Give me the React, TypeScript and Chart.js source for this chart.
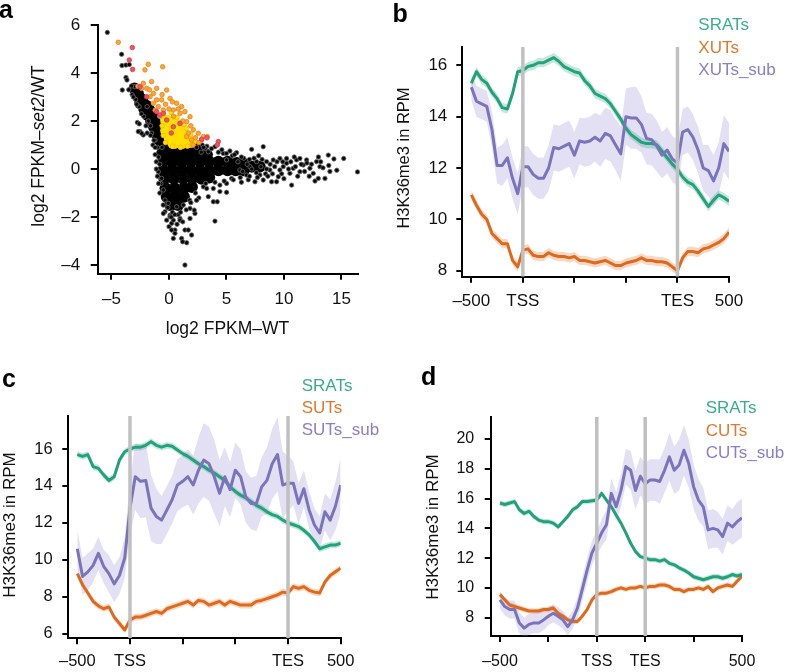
import React, { useEffect, useRef } from "react";
import { Chart, registerables } from "chart.js";
Chart.register(...registerables);

const FONT = '"Liberation Sans", Arial, Helvetica, sans-serif';

// ---------------- Panel a: scatter data (log2 FPKM-WT, log2 FPKM-set2/WT) ----------------
const aTicksX = [-5, 0, 5, 10, 15];
const aTicksY = [-4, -2, 0, 2, 4, 6];

const aBlackCore: number[][] = [
  [-3.0, 3.35], [-2.7, 3.15], [-2.35, 2.9], [-2.0, 2.65], [-1.7, 2.45], [-1.45, 2.2], [-1.2, 1.95], [-1.0, 1.7],
  [-0.85, 1.45], [-0.7, 1.2], [-1.35, 1.9],
  [-2.5, 2.75], [-2.15, 2.5], [-1.85, 2.25], [-1.55, 2.0], [-1.3, 1.75], [-1.1, 1.5], [-0.95, 1.25],
  [-0.6, 1.0], [0.1, 1.0], [0.9, 0.95], [1.7, 0.95], [2.3, 0.9],
  [-0.6, 0.65], [0.2, 0.65], [1.0, 0.65], [1.8, 0.65], [2.6, 0.65], [3.3, 0.6],
  [-0.5, 0.3], [0.3, 0.3], [1.1, 0.3], [1.9, 0.3], [2.7, 0.3], [3.5, 0.3], [4.3, 0.3], [5.1, 0.3], [5.9, 0.25], [6.6, 0.2],
  [-0.5, -0.05], [0.3, -0.05], [1.1, -0.05], [1.9, -0.05], [2.7, -0.05], [3.5, -0.05], [4.3, -0.05], [5.1, -0.05], [5.8, -0.05],
  [6.5, -0.05], [7.2, 0.1], [7.9, 0.1],
  [-0.4, -0.4], [0.4, -0.4], [1.2, -0.4], [2.0, -0.4], [2.8, -0.4], [3.5, -0.35],
  [-0.3, -0.8], [0.5, -0.8], [1.3, -0.8], [2.0, -0.75],
  [-0.2, -1.15], [0.6, -1.15], [1.3, -1.15],
  [0.1, -1.5], [0.8, -1.5],
];

const aBlack: number[][] = [
  [-5.36, 5.69], [-4.12, 4.78], [-4.09, 4.31], [-3.74, 4.33], [-3.45, 4.35], [-3.74, 3.81], [-3.65, 3.71], [-4.06, 3.29],
  [-2.96, 3.43], [-3.25, 3.46], [-3.5, 3.3], [-2.75, 1.94], [-2.58, 1.88], [-2.52, 1.56], [-2.23, 1.42], [-2.38, 1.49],
  [-2.67, 1.56], [-3.2, 3.1], [-2.9, 2.9], [-2.6, 2.6], [-2.2, 2.2], [-1.9, 2.6], [-1.8, 2.0], [-1.6, 1.8], [-1.9, 1.5],
  [-1.5, 1.5], [-1.2, 1.2], [-1.4, 1.0], [-1.0, 0.9], [-1.2, 0.6], [-0.9, 0.5], [-1.1, 0.3], [-0.93, -0.11], [-0.64, -0.39],
  [-0.49, -0.87], [-0.35, -1.29], [-0.06, -1.43], [-0.8, 0.2], [-0.7, -0.6], [-0.6, 0.9], [2.9, 1.0], [3.3, 0.95],
  [-1.1, 0.0], [-1.0, -0.3], [-0.9, -0.6], [-0.8, -1.0], [-1.2, 0.9], [-1.3, 1.2], [-1.6, 1.4], [-2.0, 1.8], [-2.4, 2.3],
  [-2.8, 2.7], [-3.1, 3.0],
  [-0.35, -1.78], [-0.2, -2.13], [0.23, -2.26], [0.52, -2.54], [0.38, -2.89], [1.1, -2.89], [1.54, -3.07], [1.19, -3.03],
  [0.96, -2.06], [1.83, -2.06], [2.26, -1.85], [1.83, -1.64], [1.25, -1.5], [0.67, -1.57], [0.09, -1.92], [1.39, -4.0],
  [-0.49, -1.85], [0.09, -1.99], [0.38, -2.13], [0.23, -2.54], [0.52, -2.68], [1.39, -2.54], [1.68, -2.54], [1.97, -2.75],
  [2.2, -1.71], [0.96, -2.13], [4.0, -2.17], [3.86, -1.36], [4.2, -1.36], [3.42, -1.15], [2.99, -0.74], [4.43, -0.94],
  [5.01, -0.97], [2.6, -1.2], [2.3, -1.0], [1.8, -1.3], [0.3, -1.8], [-0.1, -1.6], [0.8, -1.9],
  [-0.5, -1.5], [0.2, -2.0], [0.5, -1.9], [1.0, -1.8], [1.5, -1.7], [1.9, -1.4], [2.4, -1.3], [0.7, -2.3], [1.2, -2.2],
  [0.0, -2.4],
  [5.88, 0.68], [7.19, 0.82], [8.2, 0.93], [13.86, 0.58], [14.35, 0.42], [15.2, 0.44], [16.4, -0.12], [10.67, -0.67],
  [12.99, -0.39], [13.57, -0.39], [12.55, -0.18], [12.26, 0.03], [11.68, 0.17], [11.1, 0.38], [10.81, 0.03], [10.23, 0.24],
  [9.65, -0.04], [9.51, -0.32], [8.93, -0.53], [9.36, -0.53], [8.2, -0.46], [7.91, -0.25], [7.48, -0.53], [8.49, 0.31],
  [9.07, 0.38], [9.65, 0.44], [10.23, 0.44], [11.39, 0.44], [11.97, 0.38], [12.84, 0.31], [13.13, 0.1], [11.39, -0.11],
  [10.52, -0.18], [9.94, 0.1], [8.78, -0.04], [6.75, -0.25], [6.17, -0.04], [7.04, 0.1], [7.62, 0.31], [5.45, -0.39],
  [5.01, -0.6], [4.43, -0.67], [3.86, -0.81], [3.28, -0.81], [5.01, 0.38], [4.72, 0.65], [4.0, 0.93], [3.42, 0.72],
  [3.13, 0.86], [2.4, 0.9], [2.8, 0.7], [6.4, -0.1], [6.8, 0.2], [7.2, 0.0], [7.6, -0.15], [8.0, 0.1], [8.4, -0.2],
  [8.8, 0.2], [9.2, 0.1], [9.8, -0.2], [10.4, 0.0], [11.0, 0.1], [11.8, -0.1], [12.4, 0.2], [13.4, 0.05], [14.0, -0.1],
  [6.0, 0.3], [6.5, 0.45], [7.0, 0.4], [5.5, 0.55], [6.9, -0.45], [6.3, -0.55], [7.8, 0.55], [10.0, -0.4], [11.2, -0.3],
  [12.0, 0.25], [8.6, -0.3], [9.4, 0.3], [10.9, 0.5], [12.7, -0.5], [13.2, 0.3], [4.6, 0.8], [5.3, 0.75],
  [3.0, 0.9], [3.7, 0.85], [4.3, 0.7], [5.0, 0.65], [5.7, 0.6], [6.3, 0.5], [7.4, 0.45], [8.1, 0.4], [3.2, -0.6],
  [4.0, -0.55], [4.8, -0.5], [5.6, -0.45], [6.2, -0.35], [7.0, -0.3], [7.7, -0.35], [8.5, 0.0], [9.0, -0.2], [9.9, 0.3],
  [10.6, 0.3], [11.5, 0.2], [12.2, -0.3], [13.9, 0.15], [14.6, -0.05], [13.0, 0.5],
];

const aYellowCore: number[][] = [
  [-0.2, 2.0], [0.4, 1.95], [-0.2, 1.6], [0.5, 1.6], [1.1, 1.55], [0.1, 1.3], [0.8, 1.3], [1.5, 1.3], [0.4, 1.1],
  [1.1, 1.1], [1.8, 1.15],
];

const aYellow: number[][] = [
  [-0.5, 2.35], [0.2, 2.35], [0.7, 2.15], [1.3, 1.85], [1.9, 1.45], [2.3, 1.15], [-0.6, 1.8], [-0.5, 1.4], [-0.3, 1.1],
  [0.3, 0.95], [1.0, 0.9], [1.6, 0.95], [2.0, 1.0], [0.9, 1.9], [1.5, 1.7],
];

const aOrange: number[][] = [
  [-4.41, 5.28], [-2.09, 4.13], [-1.8, 4.36], [-0.55, 4.26], [-2.23, 3.57], [-1.51, 3.64], [-1.07, 3.36], [-0.2, 3.29],
  [-1.94, 3.36], [-2.38, 3.36], [-1.36, 3.15], [-0.64, 2.88], [0.09, 2.94], [0.67, 2.74], [1.1, 2.6], [1.39, 2.39],
  [1.83, 2.18], [0.38, 2.46], [0.96, 2.32], [1.54, 1.97], [2.12, 1.63], [2.55, 1.49], [2.99, 1.35], [3.33, 1.35],
  [2.84, 1.21], [1.97, 1.21], [1.54, 1.35], [-1.36, 2.74], [-0.93, 2.6], [-0.49, 2.46], [-1.07, 2.88], [-1.65, 3.01],
  [-0.3, 2.7], [0.4, 2.2], [1.2, 2.0], [1.9, 1.8], [2.3, 1.3], [2.6, 1.1], [1.7, 1.5], [0.8, 2.5], [-0.8, 2.2],
  [-1.2, 2.45], [0.0, 2.5], [2.1, 1.0], [-0.6, 3.1], [0.3, 2.8], [-1.7, 3.3], [-2.7, 3.45],
];

const aRed: number[][] = [
  [-3.19, 5.06], [-3.45, 4.54], [-3.16, 4.15], [-2.52, 3.43], [-1.94, 3.01], [-0.78, 2.25], [-0.2, 2.04], [-0.49, 2.32],
  [2.84, 1.24], [4.29, 1.14], [4.2, 1.0], [0.38, 1.76], [0.96, 1.9], [-1.07, 2.39], [3.3, 1.3], [0.2, 1.5],
];

// ---------------- Profile panels (b, c, d): values sampled every 0.1 of the metagene axis ----------------
const profileTicks = [0, 1, 2, 3, 4, 5];
const bcTickLabels = ["–500", "TSS", "", "", "TES", "500"];
const dTickLabels = ["–500", "", "TSS", "TES", "", "500"];
const bcBoundaries = [1, 4];
const dBoundaries = [2, 3];
const bYTicks = [8, 10, 12, 14, 16];
const cYTicks = [6, 8, 10, 12, 14, 16];
const dYTicks = [8, 10, 12, 14, 16, 18, 20];

const bSrats = [15.3, 15.75, 15.45, 15.3, 14.95, 14.7, 14.35, 14.3, 14.9, 15.75,
  15.8, 15.95, 16.0, 16.1, 16.1, 16.2, 16.3, 16.15, 15.95, 15.85,
  15.75, 15.7, 15.4, 15.2, 14.9, 14.8, 14.7, 14.5, 14.2, 13.9,
  13.55, 13.3, 13.15, 13.0, 12.95, 12.95, 12.9, 12.65, 12.4, 12.15,
  11.95, 11.65, 11.45, 11.35, 11.1, 10.8, 10.5, 10.75, 10.95, 10.85, 10.7];
const bXuts = [10.95, 10.55, 10.2, 10.0, 9.45, 9.25, 9.05, 9.05, 8.4, 8.15,
  8.8, 8.85, 8.6, 8.55, 8.55, 8.7, 8.6, 8.55, 8.55, 8.5,
  8.55, 8.4, 8.4, 8.35, 8.3, 8.35, 8.4, 8.3, 8.2, 8.2,
  8.3, 8.35, 8.4, 8.5, 8.4, 8.4, 8.35, 8.35, 8.3, 8.15,
  8.0, 8.5, 8.75, 8.75, 8.7, 8.85, 8.9, 9.0, 9.1, 9.25, 9.5];
const bXutsSub = [15.15, 14.6, 14.5, 14.4, 13.5, 12.1, 12.1, 12.4, 11.6, 11.0,
  12.05, 12.05, 11.75, 11.6, 11.6, 12.0, 12.8, 12.75, 12.85, 12.95,
  12.5, 13.05, 13.0, 13.05, 13.2, 13.05, 13.35, 13.25, 12.9, 12.55,
  14.0, 13.95, 13.95, 13.7, 13.15, 13.1, 12.85, 12.5, 12.7, 12.35,
  12.2, 13.4, 13.5, 13.2, 12.7, 12.0, 11.9, 11.5, 12.0, 12.95, 12.65];
const bXutsSubSe = [0.5, 0.6, 0.6, 0.6, 0.7, 0.7, 0.8, 0.8, 0.8, 0.8,
  0.8, 0.8, 0.8, 0.8, 0.8, 0.9, 0.9, 0.9, 0.9, 0.9,
  0.9, 0.9, 0.95, 0.95, 0.95, 1.0, 1.0, 1.0, 1.0, 1.05,
  1.1, 1.2, 1.2, 1.1, 1.0, 1.0, 1.0, 0.9, 0.9, 0.9,
  0.9, 0.9, 0.9, 0.9, 0.9, 0.9, 1.0, 1.0, 1.0, 1.1, 1.1];

const cSrats = [15.7, 15.6, 15.7, 15.05, 14.95, 14.6, 14.3, 14.5, 15.4, 15.85,
  16.0, 16.1, 16.1, 16.2, 16.4, 16.2, 16.1, 16.2, 16.15, 15.95,
  15.75, 15.6, 15.4, 15.2, 15.05, 14.85, 14.7, 14.5, 14.3, 13.95,
  13.7, 13.5, 13.35, 13.15, 12.95, 12.8, 12.6, 12.45, 12.35, 12.15,
  12.0, 11.9, 11.8, 11.6, 11.35, 11.0, 10.6, 10.7, 10.8, 10.8, 10.9];
const cSuts = [9.25, 8.65, 8.2, 7.75, 7.5, 7.35, 7.45, 6.9, 6.55, 6.2,
  6.75, 6.9, 6.9, 7.0, 7.1, 7.2, 7.1, 7.35, 7.45, 7.55,
  7.65, 7.75, 7.55, 7.8, 7.75, 7.55, 7.65, 7.75, 7.55, 7.75,
  7.65, 7.55, 7.55, 7.55, 7.75, 7.8, 7.9, 8.0, 8.1, 8.25,
  8.2, 8.55, 8.45, 8.55, 8.35, 8.25, 8.2, 8.8, 9.15, 9.35, 9.55];
const cSutsSub = [10.6, 9.1, 9.35, 9.7, 10.35, 9.65, 9.25, 8.7, 9.15, 10.1,
  12.8, 14.5, 14.25, 14.3, 12.8, 12.35, 12.15, 12.7, 13.25, 14.05,
  14.25, 14.5, 14.05, 14.85, 15.4, 15.2, 14.5, 13.6, 14.5, 13.8,
  14.85, 14.5, 13.4, 13.05, 13.05, 13.95, 14.3, 15.2, 15.7, 14.05,
  14.15, 14.15, 13.05, 13.85, 12.7, 11.9, 11.45, 12.6, 12.15, 12.9, 14.05];
const cSutsSubSe = [1.0, 1.0, 1.0, 0.9, 0.9, 0.9, 1.0, 1.0, 1.0, 1.1,
  1.5, 1.8, 2.0, 2.0, 1.8, 1.5, 1.3, 1.3, 1.3, 1.4,
  1.4, 1.5, 1.6, 1.8, 2.0, 2.0, 2.0, 1.8, 1.6, 1.5,
  1.5, 1.5, 1.4, 1.4, 1.5, 1.6, 1.8, 1.9, 2.0, 1.8,
  1.5, 1.2, 1.1, 1.0, 1.0, 0.9, 0.9, 1.0, 1.1, 1.3, 1.5];

const dSrats = [15.7, 15.6, 15.7, 15.8, 15.25, 15.0, 15.15, 14.8, 14.55, 14.45,
  14.45, 14.35, 14.1, 14.45, 14.8, 15.25, 15.45, 15.8, 15.8, 15.85,
  15.9, 16.35, 15.9, 15.45, 14.9, 14.35, 13.7, 13.0, 12.45, 12.1,
  12.0, 11.9, 11.9, 11.8, 11.9, 11.65, 11.55, 11.35, 11.2, 11.0,
  10.75, 10.65, 10.55, 10.65, 10.75, 10.75, 10.65, 10.75, 10.9, 10.8, 10.9];
const dCuts = [9.55, 9.2, 8.85, 8.75, 8.65, 8.55, 8.45, 8.45, 8.45, 8.55,
  8.55, 8.65, 8.3, 8.1, 7.85, 7.75, 7.75, 8.1, 8.55, 9.2,
  9.55, 9.65, 9.65, 9.75, 9.9, 10.0, 9.9, 10.0, 10.0, 10.1,
  10.0, 10.1, 10.1, 10.2, 10.2, 10.1, 9.9, 9.9, 9.75, 9.9,
  9.9, 10.0, 9.9, 10.1, 9.75, 10.0, 10.1, 10.2, 10.1, 10.45, 10.8];
const dCutsSub = [9.2, 8.75, 8.55, 8.55, 7.65, 7.3, 7.55, 7.65, 7.65, 7.85,
  8.1, 8.3, 8.1, 7.85, 7.4, 7.85, 8.65, 9.9, 11.2, 12.35,
  13.0, 13.7, 14.25, 16.35, 15.45, 16.55, 18.15, 17.9, 16.55, 17.5,
  17.0, 17.25, 17.25, 17.15, 17.9, 18.8, 17.9, 18.25, 19.25, 18.35,
  16.8, 15.9, 15.45, 13.9, 14.0, 13.9, 13.45, 14.35, 14.1, 14.45, 14.7];
const dCutsSubSe = [0.6, 0.6, 0.6, 0.6, 0.7, 0.7, 0.7, 0.7, 0.7, 0.7,
  0.6, 0.6, 0.6, 0.6, 0.6, 0.6, 0.7, 0.8, 0.8, 0.8,
  0.8, 0.9, 1.0, 1.0, 1.0, 1.1, 1.2, 1.3, 1.3, 1.3,
  1.4, 1.4, 1.4, 1.5, 1.5, 1.6, 1.6, 1.7, 1.7, 1.6,
  1.5, 1.4, 1.3, 1.3, 1.3, 1.2, 1.2, 1.2, 1.2, 1.3, 1.3];
const narrowSe = 0.18;

// ---------------- styles ----------------
const GREEN = "#22a27a";
const ORANGE = "#dd6a1d";
const PURPLE = "#7b73bb";
const GREEN_BAND = "rgba(40,170,125,0.28)";
const ORANGE_BAND = "rgba(235,125,55,0.30)";
const PURPLE_BAND = "rgba(125,115,195,0.22)";
const GREEN_TXT = "#3aae88";
const ORANGE_TXT = "#e0782e";
const PURPLE_TXT = "#8880c6";
const GREY = "#c0c0c0";

type Box = { left: number; top: number; width: number; height: number };
type Area = { left: number; top: number; right: number; bottom: number };

function axisStyle(tl: number, size: number, pad: number) {
  return {
    grid: { display: true, drawOnChartArea: false, drawTicks: true, tickLength: tl, tickWidth: 2, tickColor: "#000", color: "#000", lineWidth: 2 },
    border: { display: true, color: "#000", width: 2 },
    ticks: { font: { family: FONT, size }, color: "#111", padding: pad, autoSkip: false, maxRotation: 0 },
  };
}

function layoutFor(box: Box, area: Area) {
  return {
    padding: { left: 0, top: area.top - box.top, right: box.left + box.width - area.right, bottom: 0 },
    autoPadding: false,
  };
}

type Series = { vals: number[]; se: number[] | number; line: string; band: string };

function ProfilePanel(props: {
  box: Box; area: Area; xMin: number; yMin: number; yMax: number; yTicks: number[];
  xLabels: string[]; boundaries: number[]; series: Series[]; tick: number; xPad: number; yPad: number;
}) {
  const ref = useRef<HTMLCanvasElement>(null);
  useEffect(() => {
    const { box, area, xMin, yMin, yMax, yTicks, xLabels, boundaries, series, tick, xPad, yPad } = props;
    const datasets: any[] = [];
    boundaries.forEach((b) =>
      datasets.push({ data: [{ x: b, y: yMin }, { x: b, y: yMax }], borderColor: GREY, borderWidth: 3.5, pointRadius: 0, fill: false })
    );
    const xAt = (i: number) => i / 10;
    const seAt = (s: Series, i: number) => (Array.isArray(s.se) ? s.se[i] : s.se);
    series.forEach((s) =>
      datasets.push({
        data: s.vals.map((v, i) => ({ x: xAt(i), y: v })),
        borderColor: s.line, borderWidth: 3, pointRadius: 0, fill: false, tension: 0, borderJoinStyle: "round",
      })
    );
    series.forEach((s) => {
      datasets.push({
        data: s.vals.map((v, i) => ({ x: xAt(i), y: v + seAt(s, i) })),
        borderWidth: 0, borderColor: "rgba(0,0,0,0)", pointRadius: 0, backgroundColor: s.band, fill: "+1",
      });
      datasets.push({
        data: s.vals.map((v, i) => ({ x: xAt(i), y: v - seAt(s, i) })),
        borderWidth: 0, borderColor: "rgba(0,0,0,0)", pointRadius: 0, fill: false,
      });
    });
    const xs = axisStyle(6, tick, xPad);
    const ys = axisStyle(6, tick, yPad);
    const chart = new Chart(ref.current!, {
      type: "line",
      data: { datasets },
      options: {
        responsive: false, animation: false, devicePixelRatio: 1, events: [],
        layout: layoutFor(box, area) as any,
        plugins: { legend: { display: false }, tooltip: { enabled: false } },
        scales: {
          x: {
            type: "linear", min: xMin, max: 5, ...xs,
            ticks: { ...xs.ticks, callback: (_v: any, i: number) => xLabels[i] },
            afterBuildTicks: (s: any) => { s.ticks = profileTicks.map((v) => ({ value: v })); },
            afterFit: (s: any) => { s.height = box.top + box.height - area.bottom; },
          },
          y: {
            type: "linear", min: yMin, max: yMax, ...ys,
            afterBuildTicks: (s: any) => { s.ticks = yTicks.map((v) => ({ value: v })); },
            afterFit: (s: any) => { s.width = area.left - box.left; },
          },
        },
      } as any,
    });
    return () => chart.destroy();
  }, []);
  const { box } = props;
  return (
    <canvas ref={ref} width={box.width} height={box.height}
      style={{ position: "absolute", left: box.left, top: box.top, width: box.width, height: box.height }} />
  );
}

function ScatterPanel() {
  const ref = useRef<HTMLCanvasElement>(null);
  const box: Box = { left: 0, top: 0, width: 394, height: 330 };
  const area: Area = { left: 97.7, top: 24.5, right: 357.5, bottom: 273.7 };
  useEffect(() => {
    const pts = (a: number[][]) => a.map((p) => ({ x: p[0], y: p[1] }));
    const xs = axisStyle(6, 17, 9);
    const ys = axisStyle(7, 17, 10.5);
    const chart = new Chart(ref.current!, {
      type: "scatter",
      data: {
        datasets: [
          { data: pts(aRed), backgroundColor: "rgb(236,84,98)", borderColor: "rgb(214,60,75)", borderWidth: 0.8, pointRadius: 2.3, clip: false },
          { data: pts(aOrange), backgroundColor: "rgb(248,168,48)", borderColor: "rgb(232,130,35)", borderWidth: 0.8, pointRadius: 2.3, clip: false },
          { data: pts(aYellow), backgroundColor: "rgb(255,226,0)", borderColor: "rgb(246,178,20)", borderWidth: 0.8, pointRadius: 2.3, clip: false },
          { data: pts(aYellowCore), backgroundColor: "rgb(255,222,0)", borderWidth: 0, pointRadius: 6.5, clip: false },
          { data: pts(aBlack), backgroundColor: "#080808", borderColor: "#6a6a6a", borderWidth: 0.8, pointRadius: 2.2, clip: false },
          { data: pts(aBlackCore), backgroundColor: "#000", borderWidth: 0, pointRadius: 6, clip: false },
        ],
      },
      options: {
        responsive: false, animation: false, devicePixelRatio: 1, events: [],
        layout: layoutFor(box, area) as any,
        plugins: { legend: { display: false }, tooltip: { enabled: false } },
        scales: {
          x: {
            type: "linear", min: -6.2, max: 16.4, ...xs,
            ticks: { ...xs.ticks, callback: (v: any) => (v < 0 ? "–" + Math.abs(v) : String(v)) },
            afterBuildTicks: (s: any) => { s.ticks = aTicksX.map((v) => ({ value: v })); },
            afterFit: (s: any) => { s.height = box.top + box.height - area.bottom; },
          },
          y: {
            type: "linear", min: -4.36, max: 6.02, ...ys,
            ticks: { ...ys.ticks, callback: (v: any) => (v < 0 ? "–" + Math.abs(v) : String(v)) },
            afterBuildTicks: (s: any) => { s.ticks = aTicksY.map((v) => ({ value: v })); },
            afterFit: (s: any) => { s.width = area.left - box.left; },
          },
        },
      } as any,
    });
    return () => chart.destroy();
  }, []);
  return (
    <canvas ref={ref} width={box.width} height={box.height}
      style={{ position: "absolute", left: box.left, top: box.top, width: box.width, height: box.height }} />
  );
}

function Txt(props: { x: number; capY: number; size: number; color?: string; bold?: boolean; children: any; center?: boolean }) {
  const { x, capY, size, color = "#111", bold, center } = props;
  return (
    <div style={{
      position: "absolute", left: x, top: capY - 0.4885 * size, fontFamily: FONT, fontSize: size, lineHeight: `${size}px`,
      color, fontWeight: bold ? 700 : 400, whiteSpace: "nowrap", transform: center ? "translateX(-50%)" : undefined,
    }}>{props.children}</div>
  );
}

function VTxt(props: { cx: number; cy: number; size: number; children: any }) {
  const { cx, cy, size } = props;
  return (
    <div style={{
      position: "absolute", left: cx, top: cy, fontFamily: FONT, fontSize: size, lineHeight: `${size}px`, color: "#111",
      whiteSpace: "nowrap", transform: "translate(-50%,-50%) rotate(-90deg)",
    }}>{props.children}</div>
  );
}

function Legend(props: { x: number; ys: number[]; names: string[] }) {
  const colors = [GREEN_TXT, ORANGE_TXT, PURPLE_TXT];
  return (
    <>
      {props.names.map((n, i) => (
        <Txt key={n} x={props.x} capY={props.ys[i]} size={17} color={colors[i]}>{n}</Txt>
      ))}
    </>
  );
}

export default function App() {
  return (
    <div style={{ position: "absolute", left: 0, top: 0, width: 788, height: 672, background: "#fff", overflow: "hidden" }}>
      <ScatterPanel />
      <ProfilePanel
        box={{ left: 394, top: 0, width: 394, height: 330 }}
        area={{ left: 462.3, top: 46.7, right: 729, bottom: 276.7 }}
        xMin={-0.175} yMin={7.766} yMax={16.724} yTicks={bYTicks} xLabels={bcTickLabels} boundaries={bcBoundaries}
        tick={17} xPad={8} yPad={9}
        series={[
          { vals: bXutsSub, se: bXutsSubSe, line: PURPLE, band: PURPLE_BAND },
          { vals: bSrats, se: narrowSe, line: GREEN, band: GREEN_BAND },
          { vals: bXuts, se: narrowSe, line: ORANGE, band: ORANGE_BAND },
        ]}
      />
      <ProfilePanel
        box={{ left: 0, top: 330, width: 394, height: 342 }}
        area={{ left: 68.3, top: 416, right: 340.7, bottom: 638.3 }}
        xMin={-0.171} yMin={5.751} yMax={17.787} yTicks={cYTicks} xLabels={bcTickLabels} boundaries={bcBoundaries}
        tick={16.5} xPad={7.5} yPad={9.6}
        series={[
          { vals: cSutsSub, se: cSutsSubSe, line: PURPLE, band: PURPLE_BAND },
          { vals: cSrats, se: narrowSe, line: GREEN, band: GREEN_BAND },
          { vals: cSuts, se: narrowSe, line: ORANGE, band: ORANGE_BAND },
        ]}
      />
      <ProfilePanel
        box={{ left: 394, top: 330, width: 394, height: 342 }}
        area={{ left: 490.7, top: 416.7, right: 742, bottom: 636 }}
        xMin={-0.192} yMin={6.771} yMax={21.5} yTicks={dYTicks} xLabels={dTickLabels} boundaries={dBoundaries}
        tick={16} xPad={10} yPad={10.5}
        series={[
          { vals: dCutsSub, se: dCutsSubSe, line: PURPLE, band: PURPLE_BAND },
          { vals: dSrats, se: narrowSe, line: GREEN, band: GREEN_BAND },
          { vals: dCuts, se: narrowSe, line: ORANGE, band: ORANGE_BAND },
        ]}
      />

      {/* panel letters */}
      <div style={{ position: "absolute", left: -1, top: -2.9, fontFamily: FONT, fontWeight: 700, fontSize: 25, lineHeight: "25px" }}>a</div>
      <div style={{ position: "absolute", left: 392.5, top: 0.5, fontFamily: FONT, fontWeight: 700, fontSize: 25, lineHeight: "25px" }}>b</div>
      <div style={{ position: "absolute", left: 2, top: 365.5, fontFamily: FONT, fontWeight: 700, fontSize: 25, lineHeight: "25px" }}>c</div>
      <div style={{ position: "absolute", left: 421, top: 363.8, fontFamily: FONT, fontWeight: 700, fontSize: 25, lineHeight: "25px" }}>d</div>

      {/* axis titles */}
      <Txt x={227.5} capY={328.9} size={17.5} center>log2 FPKM–WT</Txt>
      <VTxt cx={39.2} cy={145.8} size={17.5}>log2 FPKM–<i>set2</i>/WT</VTxt>
      <VTxt cx={403} cy={157.5} size={16.5}>H3K36me3 in RPM</VTxt>
      <VTxt cx={9.2} cy={525} size={17}>H3K36me3 in RPM</VTxt>
      <VTxt cx={431.7} cy={526.7} size={17}>H3K36me3 in RPM</VTxt>

      {/* legends */}
      <Legend x={698.3} ys={[24.5, 47.5, 69.7]} names={["SRATs", "XUTs", "XUTs_sub"]} />
      <Legend x={301.7} ys={[385.3, 407.5, 429.2]} names={["SRATs", "SUTs", "SUTs_sub"]} />
      <Legend x={705.7} ys={[407.5, 430.2, 452.5]} names={["SRATs", "CUTs", "CUTs_sub"]} />
    </div>
  );
}
